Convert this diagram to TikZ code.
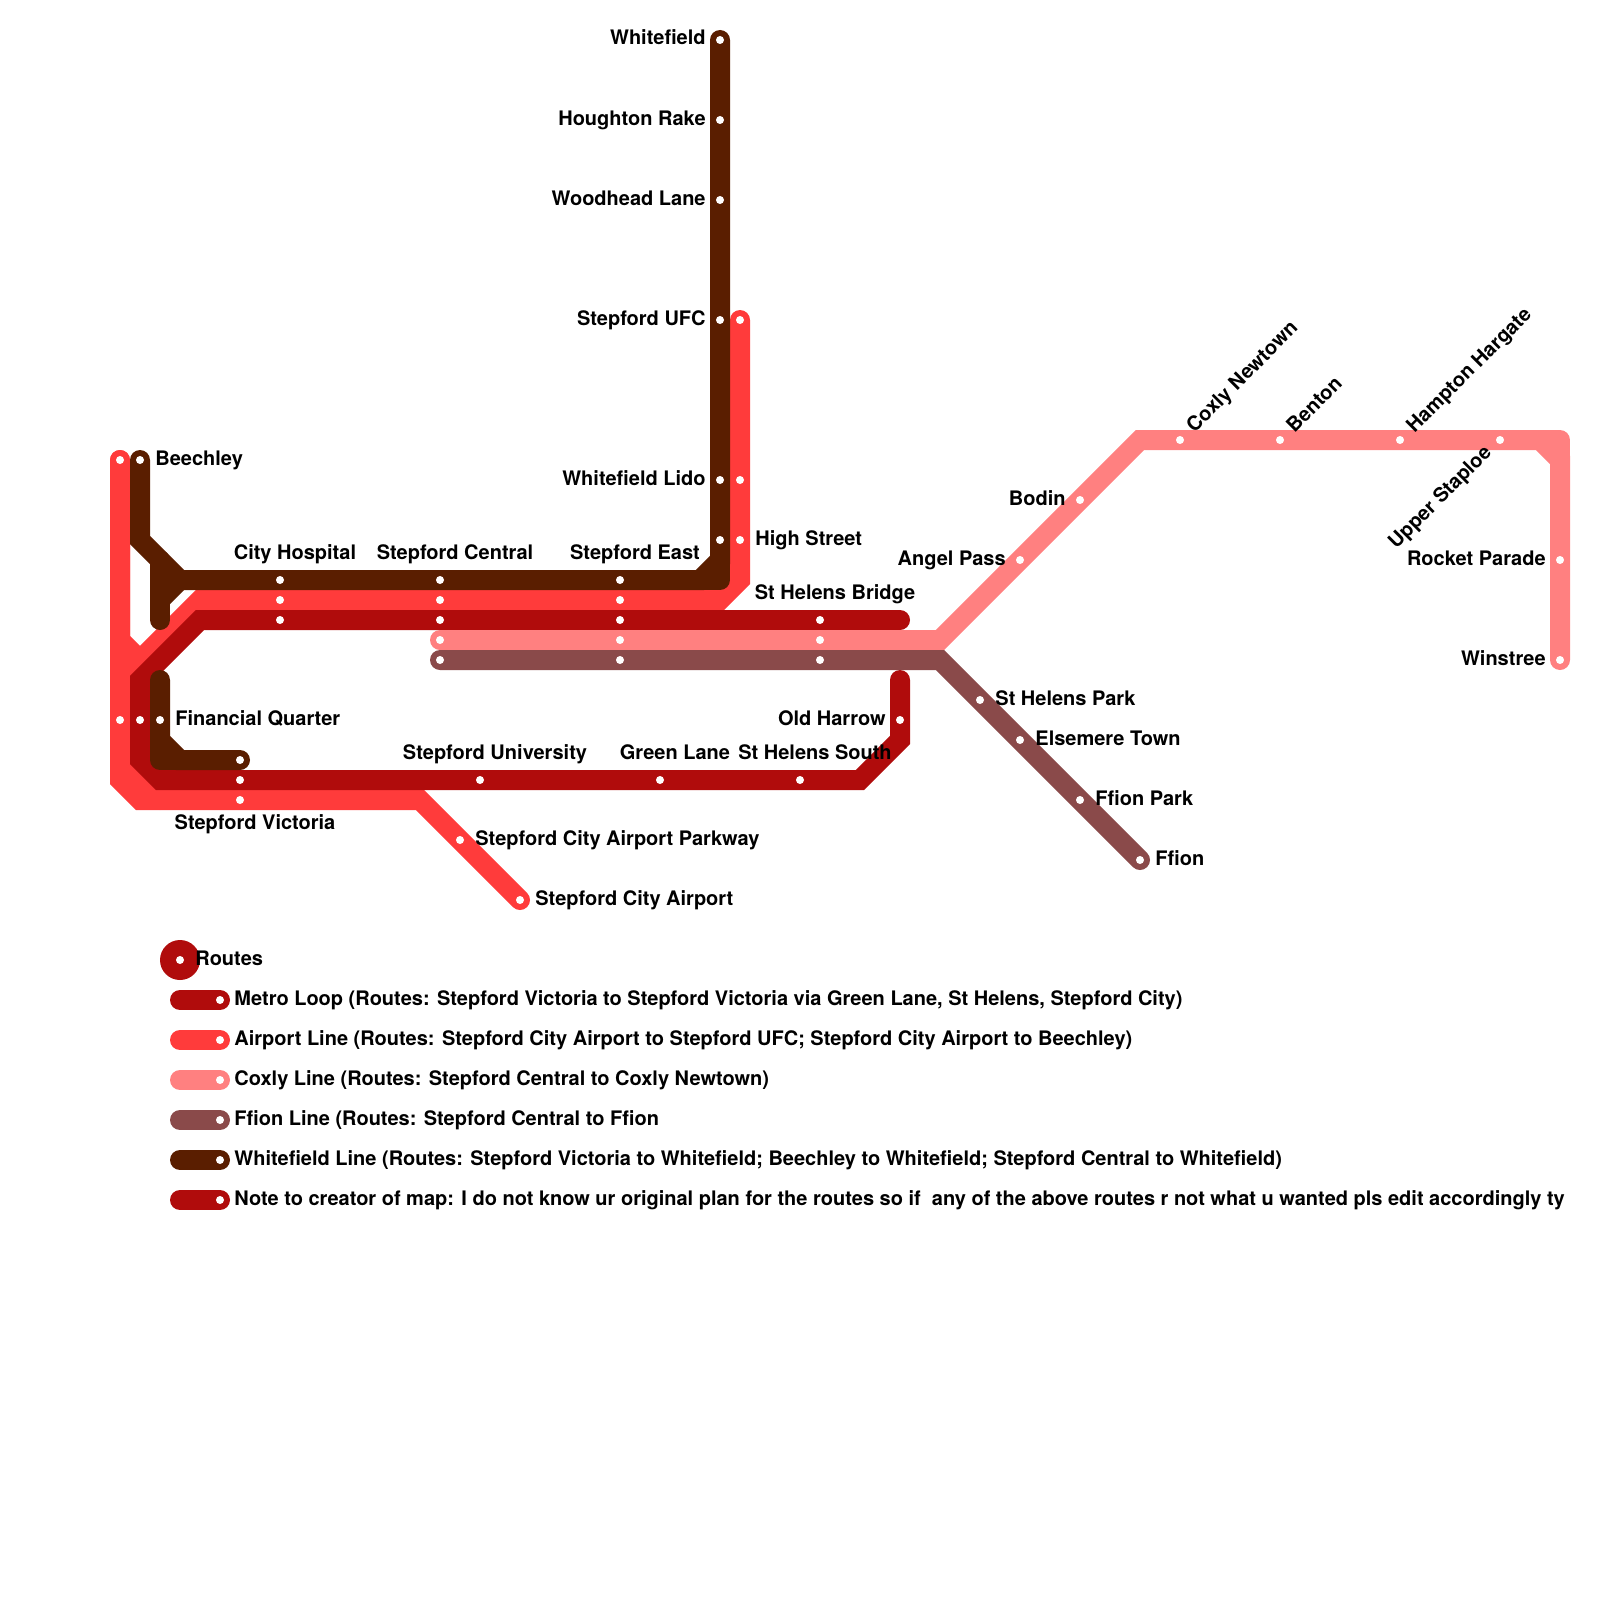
\documentclass[tikz,border=0pt]{standalone}
\usepackage{fontspec}
\setmainfont{TeX Gyre Heros}
\usepackage{tikz}
\usetikzlibrary{positioning,calc,backgrounds}
\definecolor{metrocol}{HTML}{B00C0C}
\definecolor{airportcol}{HTML}{FF3B3B}
\definecolor{coxlycol}{HTML}{FF8080}
\definecolor{ffioncol}{HTML}{8A4A4A}
\definecolor{whitecol}{HTML}{5A1E00}

\begin{document}
\begin{tikzpicture}[
  x=1pt, y=-1pt,
  stn/.style={circle, fill=white, inner sep=0pt, minimum size=8pt},
  lbl/.style={inner sep=0pt, text height=14pt, text depth=4pt, font=\fontsize{20}{24}\selectfont\bfseries},
  route/.style={line width=20pt, line cap=round, line join=miter},
  corner/.style={line join=round},
  hub/.style={circle, fill=metrocol, inner sep=0pt, minimum size=40pt}
]
\useasboundingbox (0,0) rectangle (1600,1600);
% stations up the Whitefield branch
\node[stn] (whitefield) at (720,40) {};
\node[lbl, left=10pt of whitefield] (whitefieldl) {Whitefield};
\node[stn] (houghton) at (720,120) {};
\node[lbl, left=10pt of houghton] (houghtonl) {Houghton Rake};
\node[stn] (woodhead) at (720,200) {};
\node[lbl, left=10pt of woodhead] (woodheadl) {Woodhead Lane};
\node[stn] (ufc) at (720,320) {};
\node[lbl, left=10pt of ufc] (ufcl) {Stepford UFC};
\node[stn] (ufcair) at (740,320) {};
\node[stn] (lido) at (720,480) {};
\node[lbl, left=10pt of lido] (lidol) {Whitefield Lido};
\node[stn] (lidoair) at (740,480) {};
\node[stn] (highw) at (720,540) {};
\node[stn] (high) at (740,540) {};
\node[lbl, right=11pt of high] (highl) {High Street};
% west end
\node[stn] (beechair) at (120,460) {};
\node[stn] (beech) at (140,460) {};
\node[lbl, right=11pt of beech] (beechl) {Beechley};
\node[stn] (finair) at (120,720) {};
\node[stn] (finmet) at (140,720) {};
\node[stn] (fin) at (160,720) {};
\node[lbl, right=11pt of fin] (finl) {Financial Quarter};
\node[stn] (vicw) at (240,760) {};
\node[stn] (vicm) at (240,780) {};
\node[stn] (vic) at (240,800) {};
\node[lbl, below=11pt of vic, xshift=15pt] (vicl) {Stepford Victoria};
% central stretch
\node[stn] (hospw) at (280,580) {};
\node[lbl, above=12pt of hospw, xshift=15pt] (hospl) {City Hospital};
\node[stn] (hospa) at (280,600) {};
\node[stn] (hospm) at (280,620) {};
\node[stn] (centw) at (440,580) {};
\node[lbl, above=12pt of centw, xshift=15pt] (centl) {Stepford Central};
\node[stn] (centa) at (440,600) {};
\node[stn] (centm) at (440,620) {};
\node[stn] (centc) at (440,640) {};
\node[stn] (centf) at (440,660) {};
\node[stn] (eastw) at (620,580) {};
\node[lbl, above=12pt of eastw, xshift=15pt] (eastl) {Stepford East};
\node[stn] (easta) at (620,600) {};
\node[stn] (eastm) at (620,620) {};
\node[stn] (eastc) at (620,640) {};
\node[stn] (eastf) at (620,660) {};
\node[stn] (bridgem) at (820,620) {};
\node[lbl, above=12pt of bridgem, xshift=15pt] (bridgel) {St Helens Bridge};
\node[stn] (bridgec) at (820,640) {};
\node[stn] (bridgef) at (820,660) {};
% south of the loop
\node[stn] (uni) at (480,780) {};
\node[lbl, above=12pt of uni, xshift=15pt] (unil) {Stepford University};
\node[stn] (green) at (660,780) {};
\node[lbl, above=12pt of green, xshift=15pt] (greenl) {Green Lane};
\node[stn] (south) at (800,780) {};
\node[lbl, above=12pt of south, xshift=15pt] (southl) {St Helens South};
\node[stn] (harrow) at (900,720) {};
\node[lbl, left=10pt of harrow] (harrowl) {Old Harrow};
\node[stn] (parkway) at (460,840) {};
\node[lbl, right=11pt of parkway] (parkwayl) {Stepford City Airport Parkway};
\node[stn] (airport) at (520,900) {};
\node[lbl, right=11pt of airport] (airportl) {Stepford City Airport};
% Coxly branch
\node[stn] (angel) at (1020,560) {};
\node[lbl, left=10pt of angel] (angell) {Angel Pass};
\node[stn] (bodin) at (1080,500) {};
\node[lbl, left=10pt of bodin] (bodinl) {Bodin};
\node[stn] (coxly) at (1180,440) {};
\node[lbl, rotate=45, anchor=west] (coxlyl) at ($(coxly)+(11,-10)$) {Coxly Newtown};
\node[stn] (benton) at (1280,440) {};
\node[lbl, rotate=45, anchor=west] (bentonl) at ($(benton)+(11,-10)$) {Benton};
\node[stn] (hampton) at (1400,440) {};
\node[lbl, rotate=45, anchor=west] (hamptonl) at ($(hampton)+(11,-10)$) {Hampton Hargate};
\node[stn] (staploe) at (1500,440) {};
\node[lbl, rotate=45, anchor=east] (staploel) at ($(staploe)+(-11,10)$) {Upper Staploe};
\node[stn] (rocket) at (1560,560) {};
\node[lbl, left=10pt of rocket] (rocketl) {Rocket Parade};
\node[stn] (winstree) at (1560,660) {};
\node[lbl, left=10pt of winstree] (winstreel) {Winstree};
% Ffion branch
\node[stn] (park) at (980,700) {};
\node[lbl, right=11pt of park] (parkl) {St Helens Park};
\node[stn] (elsemere) at (1020,740) {};
\node[lbl, right=11pt of elsemere] (elsemerel) {Elsemere Town};
\node[stn] (ffpark) at (1080,800) {};
\node[lbl, right=11pt of ffpark] (ffparkl) {Ffion Park};
\node[stn] (ffion) at (1140,860) {};
\node[lbl, right=11pt of ffion] (ffionl) {Ffion};
% legend
\node[hub] (routes) at (180,960) {};
\node[stn] (routesd) at (180,960) {};
\node[lbl, right=11pt of routesd] (routesl) {Routes};
\node[stn] (legm) at (220,1000) {};
\node[lbl, right=10pt of legm] (legml) {Metro Loop (Routes: Stepford Victoria to Stepford Victoria via Green Lane, St Helens, Stepford City)};
\node[stn] (lega) at (220,1040) {};
\node[lbl, right=10pt of lega] (legal) {Airport Line (Routes: Stepford City Airport to Stepford UFC; Stepford City Airport to Beechley)};
\node[stn] (legc) at (220,1080) {};
\node[lbl, right=10pt of legc] (legcl) {Coxly Line (Routes: Stepford Central to Coxly Newtown)};
\node[stn] (legf) at (220,1120) {};
\node[lbl, right=10pt of legf] (legfl) {Ffion Line (Routes: Stepford Central to Ffion};
\node[stn] (legw) at (220,1160) {};
\node[lbl, right=10pt of legw] (legwl) {Whitefield Line (Routes: Stepford Victoria to Whitefield; Beechley to Whitefield; Stepford Central to Whitefield)};
\node[stn] (legn) at (220,1200) {};
\node[lbl, right=10pt of legn] (legnl) {Note to creator of map: I do not know ur original plan for the routes so if~ any of the above routes r not what u wanted pls edit accordingly ty};
% the lines go under the stations
\begin{scope}[on background layer]
\draw[route, airportcol] (airport.center) -- (420,800) -- (140,800) -- (120,780) -- (beechair.center);
\draw[route, airportcol] (beechair.center) -- (120,640) -- (140,660) -- (200,600) -- (720,600) -- (740,580) -- (ufcair.center);
\draw[route, airportcol] (120,680) -- (140,660);
\draw[route, airportcol] (120,760) -- (160,800);
\draw[route, metrocol] (900,680) -- (900,740) -- (860,780) -- (160,780) -- (140,760) -- (140,680) -- (200,620) -- (900,620);
\draw[route, coxlycol] (centc.center) -- (940,640) -- (1140,440) -- (1540,440) -- (1560,460) -- (winstree.center);
\draw[route, coxlycol, corner] (1540,440) -- (1560,440) -- (1560,460);
\draw[route, ffioncol] (centf.center) -- (940,660) -- (ffion.center);
\draw[route, whitecol] (whitefield.center) -- (720,560) -- (700,580) -- (180,580) -- (140,540) -- (beech.center);
\draw[route, whitecol, corner] (720,560) -- (720,580) -- (700,580);
\draw[route, whitecol] (160,620) -- (160,560);
\draw[route, whitecol] (160,600) -- (180,580);
\draw[route, whitecol] (160,680) -- (160,740) -- (180,760) -- (vicw.center);
\draw[route, whitecol, corner] (160,740) -- (160,760) -- (180,760);
\draw[route, metrocol] (legm.center) -- ++(-40,0);
\draw[route, airportcol] (lega.center) -- ++(-40,0);
\draw[route, coxlycol] (legc.center) -- ++(-40,0);
\draw[route, ffioncol] (legf.center) -- ++(-40,0);
\draw[route, whitecol] (legw.center) -- ++(-40,0);
\draw[route, metrocol] (legn.center) -- ++(-40,0);
\end{scope}
\end{tikzpicture}
\end{document}
